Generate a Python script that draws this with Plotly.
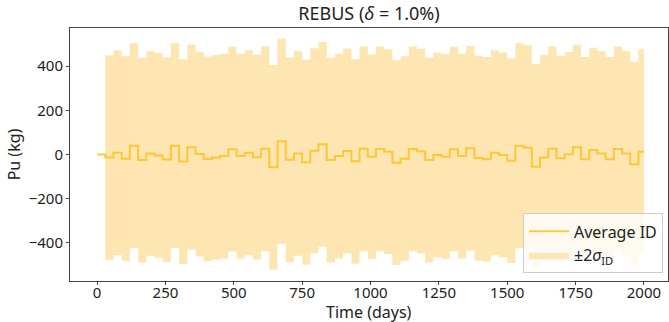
import plotly.graph_objects as go

# ---- data ----
step_days = 30
t_end = 2000
# Average ID per balance period (kg), first period [0,30) is 0
avg_id = [0,
          -14, 8, -19, 40, -25, 5, -4, -23, 40, -32, 33, 2,
          -20, -13, -7, 24, -7, 8, -12, 26, -58, 60, -24, 5, -35,
          17, 46, -25, -7, 16, -31, 26, -10, 25, 13, -37, -19, 25,
          15, -25, -2, -10, 24, -7, 28, -16, -22, 8, -2, -28, 40,
          31, -55, -13, 26, -17, 1, 33, -22, 20, 5, -22, 25, 5, -44, 13]
two_sigma = 463  # kg, 2*sigma_ID for every balance after the first

times = [i * step_days for i in range(len(avg_id))] + [t_end]
line_y = avg_id + [avg_id[-1]]

band_t = times[1:]
band_mean = avg_id[1:] + [avg_id[-1]]
upper = [m + two_sigma for m in band_mean]
lower = [m - two_sigma for m in band_mean]

x_ticks = [0, 250, 500, 750, 1000, 1250, 1500, 1750, 2000]
y_ticks = [-400, -200, 0, 200, 400]

LINE_C = "rgba(255,195,40,0.9)"
BAND_C = "rgba(253,226,165,0.85)"
FONT = "Noto Sans"

fig = go.Figure()
fig.add_trace(go.Scatter(x=band_t, y=upper, mode="lines", line=dict(width=0, shape="hv"),
                         showlegend=False, hoverinfo="skip"))
fig.add_trace(go.Scatter(x=band_t, y=lower, mode="lines", line=dict(width=0, shape="hv"),
                         fill="tonexty", fillcolor=BAND_C, name="±2<i>σ</i><sub>ID</sub>",
                         legendrank=2))
fig.add_trace(go.Scatter(x=times, y=line_y, mode="lines", line=dict(color=LINE_C, width=2, shape="hv"),
                         name="Average ID", legendrank=1))

axis_common = dict(showline=True, linecolor="#444", linewidth=1, mirror=True,
                   ticks="outside", ticklen=3, tickcolor="#444", showgrid=False, zeroline=False,
                   tickfont=dict(size=15, color="#222", family=FONT))

fig.update_layout(
    width=669, height=322,
    margin=dict(l=70, r=1, t=28, b=41),
    paper_bgcolor="white", plot_bgcolor="white",
    font=dict(family=FONT, color="#222"),
    title=dict(text="REBUS (<i>δ</i> = 1.0%)", x=(70 + 668) / 2 / 669, xanchor="center",
               y=1 - 14 / 322, yanchor="middle", font=dict(size=18, family=FONT, color="#222")),
    xaxis=dict(range=[-99, 2088], tickvals=x_ticks, ticktext=[str(v) for v in x_ticks],
               ticklabelstandoff=-5,
               **axis_common),
    yaxis=dict(range=[-572, 572], tickvals=y_ticks,
               ticktext=[("−" + str(-v)) if v < 0 else str(v) for v in y_ticks],
               title=dict(text="Pu (kg)", font=dict(size=16, family=FONT), standoff=4),
               **axis_common),
    legend=dict(x=0.9916, xanchor="right", y=0.03, yanchor="bottom",
                bgcolor="rgba(255,255,255,0.8)", bordercolor="#ccc", borderwidth=1,
                font=dict(size=16, family=FONT, color="#222"), traceorder="normal",
                itemwidth=40),
    annotations=[dict(text="Time (days)", xref="paper", yref="paper", x=0.5, y=-(312 - 281) / 253,
                      xanchor="center", yanchor="middle", showarrow=False,
                      font=dict(size=16, family=FONT, color="#222"))],
)

fig.write_html("out.html")
